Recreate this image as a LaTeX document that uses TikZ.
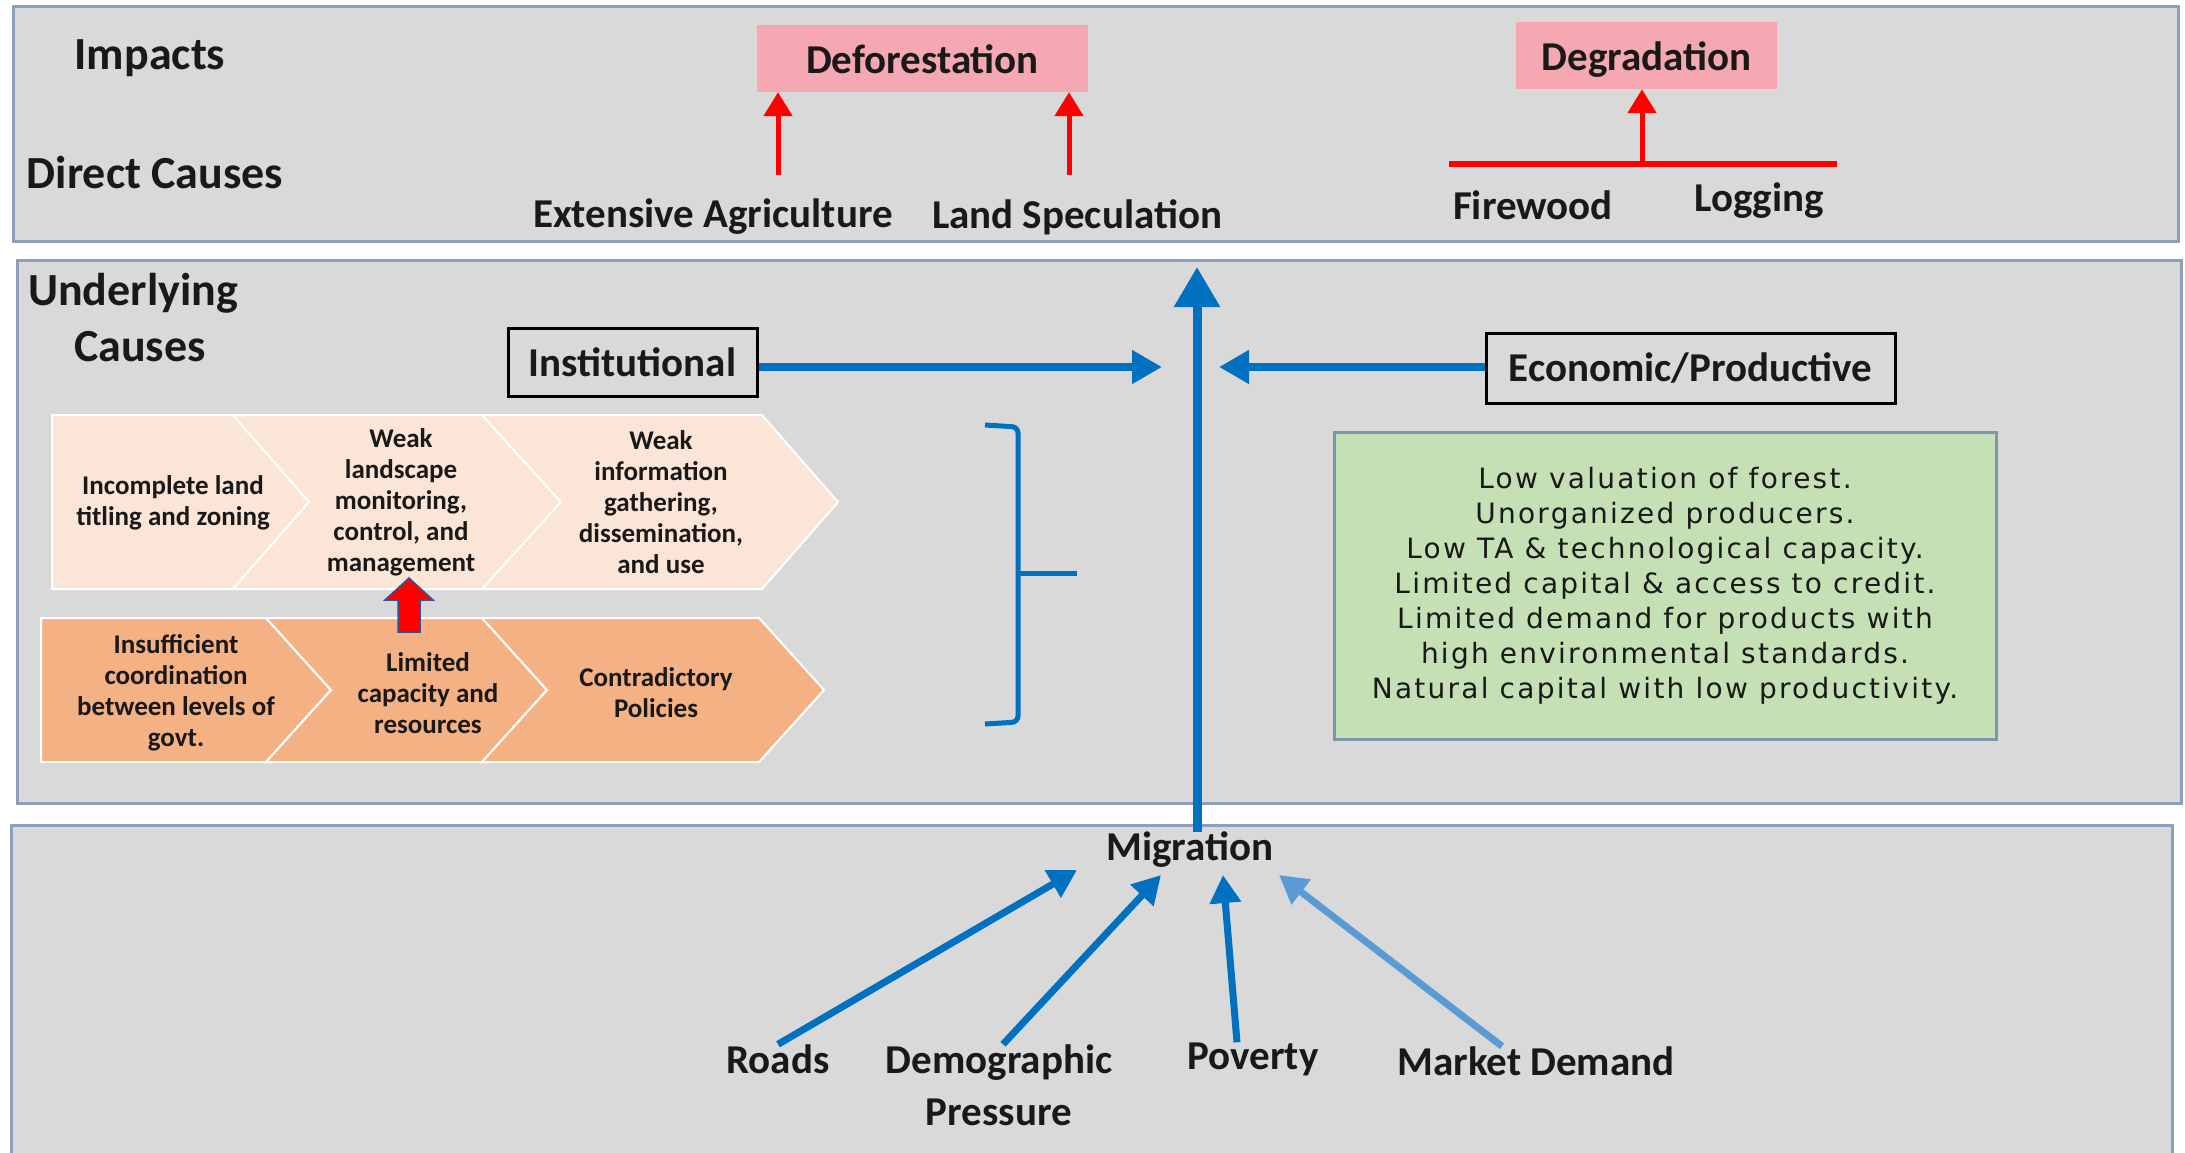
\documentclass[tikz,border=0pt]{standalone}
\usepackage{fontspec}
\setmainfont{Carlito}
\newfontfamily\gfont[LetterSpace=8]{DejaVu Sans}
\usetikzlibrary{arrows.meta}
\definecolor{panel}{RGB}{217,217,217}
\definecolor{panelline}{RGB}{140,160,185}
\definecolor{pinkbox}{RGB}{245,168,178}
\definecolor{bl}{RGB}{0,112,192}
\definecolor{lbl}{RGB}{91,155,213}
\definecolor{peach}{RGB}{251,229,214}
\definecolor{orng}{RGB}{244,177,131}
\definecolor{grn}{RGB}{197,224,180}
\definecolor{grnline}{RGB}{125,150,170}
\definecolor{txt}{RGB}{25,25,25}
\definecolor{arrowline}{RGB}{47,85,151}
\begin{document}
\begin{tikzpicture}[x=1pt,y=-1pt,
  lab/.style={font=\fontsize{41}{52}\selectfont\bfseries, text=txt, inner sep=0pt},
  ttl/.style={font=\fontsize{46}{54}\selectfont\bfseries, text=txt, inner sep=0pt},
  chevtxt/.style={font=\fontsize{27}{31}\selectfont\bfseries, text=txt, align=center, inner sep=0pt},
  panelbox/.style={fill=panel, draw=panelline, line width=3pt},
  chevtop/.style={fill=peach, draw=white, line width=2pt},
  chevbot/.style={fill=orng, draw=white, line width=2pt},
  redarr/.style={draw=red, line width=5pt, -{Triangle[length=24pt,width=28pt]}},
  bluearr/.style={draw=bl, line width=8pt, -{Triangle[length=30pt,width=32pt]}},
  bigarr/.style={draw=bl, line width=9pt, -{Triangle[length=40pt,width=44pt]}},
  botarr/.style={line width=7pt, -{Triangle[length=28pt,width=30pt]}},
  catbox/.style={draw=black, line width=3pt, lab},
  pinkstyle/.style={lab, fill=pinkbox, minimum height=67pt, text height=33pt, text depth=4pt}
]
\useasboundingbox (0,0) rectangle (2185,1152);
\fill[white] (0,0) rectangle (2185,1152);

% panels
\draw[panelbox] (13,6) rectangle (2178,241);
\draw[panelbox] (17,260) rectangle (2181,803);
\draw[panelbox] (11,825) rectangle (2172,1170);

% ---------- top panel ----------
\node[ttl] (impacts) at (150,58) {Impacts};
\node[ttl] (direct) at (155,173) {Direct Causes};
\node[pinkstyle, minimum width=331pt] (defo) at (922.5,58.5) {Deforestation};
\node[pinkstyle, minimum width=261pt] (degr) at (1646.5,55.5) {Degradation};
\node[lab] (agri) at (713,217) {Extensive Agriculture};
\node[lab] (spec) at (1077,217) {Land Speculation};
\node[lab] (fire) at (1533,205) {Firewood};
\node[lab] (logg) at (1759,201) {Logging};

\coordinate (ra1) at (778,175);
\coordinate (ra2) at (1069,175);
\draw[redarr] (ra1) -- (ra1 |- defo.south);
\draw[redarr] (ra2) -- (ra2 |- defo.south);
\coordinate (rl1) at (1449,164);
\coordinate (rl2) at (1837,164);
\coordinate (rlm) at (1642,164);
\draw[red, line width=6pt] (rl1) -- (rl2);
\draw[redarr] (rlm) -- (rlm |- degr.south);

% ---------- middle panel ----------
\node[ttl, anchor=west] (under) at (28,293) {Underlying};
\node[ttl, anchor=west] (causes) at (74,347) {Causes};
\node[catbox, minimum width=249pt, minimum height=68pt] (inst) at (632.5,362) {Institutional};
\node[catbox, minimum width=409pt, minimum height=70pt] (econ) at (1690.5,368) {Economic/Productive};

\coordinate (ih) at (1162,367);
\coordinate (eh) at (1219,367);
\draw[bluearr] (inst.east |- ih) -- (ih);
\draw[bluearr] (econ.west |- eh) -- (eh);

% chevrons top row
\draw[chevtop] (52,415) -- (233,415) -- (309,502) -- (233,589) -- (52,589) -- cycle;
\draw[chevtop] (233,415) -- (482,415) -- (561,502) -- (482,589) -- (233,589) -- (309,502) -- cycle;
\draw[chevtop] (482,415) -- (762,415) -- (838,502) -- (762,589) -- (482,589) -- (561,502) -- cycle;
% chevrons bottom row
\draw[chevbot] (41,618) -- (266,618) -- (331,690) -- (266,762) -- (41,762) -- cycle;
\draw[chevbot] (266,618) -- (482,618) -- (547,690) -- (482,762) -- (266,762) -- (331,690) -- cycle;
\draw[chevbot] (482,618) -- (759,618) -- (824,690) -- (759,762) -- (482,762) -- (547,690) -- cycle;

\node[chevtxt] (t1) at (173,503) {Incomplete land\\titling and zoning};
\node[chevtxt] (t2) at (401,502) {Weak\\landscape\\monitoring,\\control, and\\management};
\node[chevtxt] (t3) at (661,502) {Weak\\information\\gathering,\\dissemination,\\and use};
\node[chevtxt] (b1) at (176,693) {Insufficient\\coordination\\between levels of\\govt.};
\node[chevtxt] (b2) at (428,693) {Limited\\capacity and\\resources};
\node[chevtxt] (b3) at (656,693) {Contradictory\\Policies};

% red block arrow
\draw[fill=red, draw=arrowline, line width=1.5pt]
  (398,632) -- (398,600) -- (385,600) -- (409,578) -- (433,600) -- (420,600) -- (420,632) -- cycle;

% bracket
\coordinate (bk1) at (985,425);
\coordinate (bk2) at (1018,427);
\coordinate (bk3) at (1018,722);
\coordinate (bk4) at (985,724);
\coordinate (bkm) at (1018,573);
\coordinate (bkt) at (1077,573);
\draw[bl, line width=5pt, rounded corners=6pt] (bk1) -- (bk2) -- (bk3) -- (bk4);
\draw[bl, line width=5pt] (bkm) -- (bkt);

% green box
\node[fill=grn, draw=grnline, line width=3pt, minimum width=662pt, minimum height=307pt,
      align=center, font=\gfont\fontsize{28}{35}\selectfont, text=txt] (green) at (1665,585.5)
  {Low valuation of forest.\\Unorganized producers.\\Low TA \& technological capacity.\\Limited capital \& access to credit.\\Limited demand for products with\\high environmental standards.\\Natural capital with low productivity.};

% ---------- bottom panel ----------
\node[lab] (migr) at (1190,850) {Migration};
\node[lab] (roads) at (778,1059) {Roads};
\node[lab, align=center] (demo) at (999,1085) {Demographic\\Pressure};
\node[lab] (pov) at (1253,1059) {Poverty};
\node[lab] (mkt) at (1536,1061) {Market Demand};

\coordinate (vtop) at (1197,267);
\draw[bigarr] (migr.north -| vtop) -- (vtop);

\coordinate (tR) at (1077,870);
\coordinate (tD) at (1161,875);
\coordinate (tP) at (1223,875);
\coordinate (tM) at (1279,875);
\draw[botarr, draw=bl] (roads.north) -- (tR);
\draw[botarr, draw=bl] ([xshift=4pt]demo.north) -- (tD);
\draw[botarr, draw=bl] ([xshift=-16pt]pov.north) -- (tP);
\draw[botarr, draw=lbl] ([xshift=-34pt]mkt.north) -- (tM);
\end{tikzpicture}
\end{document}
